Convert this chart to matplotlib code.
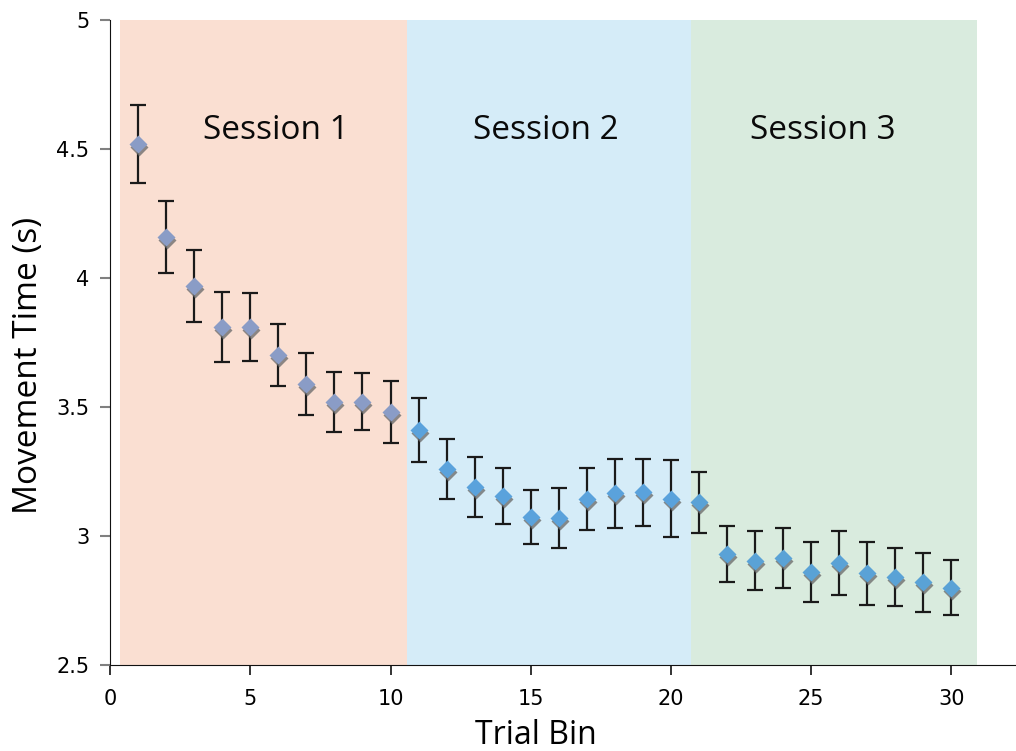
import matplotlib
matplotlib.use("Agg")
import matplotlib.pyplot as plt
import matplotlib.transforms as mtransforms
import numpy as np

# Movement time per trial bin (mean and error)
trial_bin = list(range(1, 31))
movement_time = [4.52, 4.16, 3.97, 3.81, 3.81, 3.70, 3.59, 3.52, 3.52, 3.48,
                 3.41, 3.26, 3.19, 3.155, 3.075, 3.07, 3.145, 3.165, 3.17, 3.145,
                 3.13, 2.93, 2.905, 2.915, 2.86, 2.895, 2.855, 2.84, 2.82, 2.80]
error = [0.15, 0.14, 0.14, 0.135, 0.13, 0.12, 0.12, 0.115, 0.11, 0.12,
         0.125, 0.117, 0.118, 0.11, 0.105, 0.115, 0.12, 0.133, 0.13, 0.15,
         0.117, 0.107, 0.114, 0.116, 0.115, 0.124, 0.122, 0.113, 0.113, 0.107]

sessions = ["Session 1", "Session 2", "Session 3"]
session_spans = [(0.36, 10.57), (10.6, 20.7), (20.7, 30.9)]
session_colors = ["#fadfd2", "#d5ecf8", "#d9ebde"]
marker_colors = ["#8a9cc6", "#5aa2dc", "#5aa2d6"]

plt.rcParams["xtick.labelsize"] = 15
plt.rcParams["ytick.labelsize"] = 15

fig = plt.figure(figsize=(10.16, 7.51), dpi=100)
ax = fig.add_axes([0.1083, 0.1145, 0.8917, 0.8589])

for (x0, x1), c in zip(session_spans, session_colors):
    ax.axvspan(x0, x1, color=c, lw=0, zorder=0)

x = np.array(trial_bin)
y = np.array(movement_time)
e = np.array(error)

ax.errorbar(x, y, yerr=e, fmt="none", ecolor="#1a1a1a", elinewidth=1.6,
            capsize=5.5, capthick=1.6, zorder=2)

# marker shadow, offset a little down
shadow = ax.transData + mtransforms.ScaledTranslation(1 / 100, -3 / 100, fig.dpi_scale_trans)
for i in range(3):
    xs = x[i * 10:(i + 1) * 10]
    ys = y[i * 10:(i + 1) * 10]
    ax.plot(xs, ys, "D", ms=9.5, color="#6f6f6f", alpha=0.8, mec="none",
            transform=shadow, zorder=3)
    ax.plot(xs, ys, "D", ms=9.5, color=marker_colors[i], mec="none", zorder=4)

label_x = [5.9, 15.55, 25.4]
for name, lx in zip(sessions, label_x):
    ax.text(lx, 4.57, name, ha="center", va="center", fontsize=24,
            family="Open Sans", color="#0a0a0a", zorder=5)

ax.set_xlim(0, 32.3)
ax.set_ylim(2.5, 5)
ax.set_xticks([0, 5, 10, 15, 20, 25, 30])
ax.set_yticks([2.5, 3, 3.5, 4, 4.5, 5])
ax.set_yticklabels(["2.5", "3", "3.5", "4", "4.5", "5"], fontsize=15)
ax.set_xticklabels(["0", "5", "10", "15", "20", "25", "30"], fontsize=15)

for side in ["top", "right"]:
    ax.spines[side].set_visible(False)
ax.spines["left"].set_color("#111111")
ax.spines["bottom"].set_color("#111111")
ax.tick_params(axis="y", direction="out", length=7, width=1.5, color="#808080", pad=8)
ax.tick_params(axis="x", direction="out", length=7, width=1.2, color="#111111", pad=10)

ax.set_xlabel("Trial Bin", fontsize=23, family="Open Sans")
ax.set_ylabel("Movement Time (s)", fontsize=24, family="Open Sans")
ax.xaxis.set_label_coords(0.47, -0.084)
ax.yaxis.set_label_coords(-0.072, 0.465)

fig.savefig("out.png", dpi=100)
